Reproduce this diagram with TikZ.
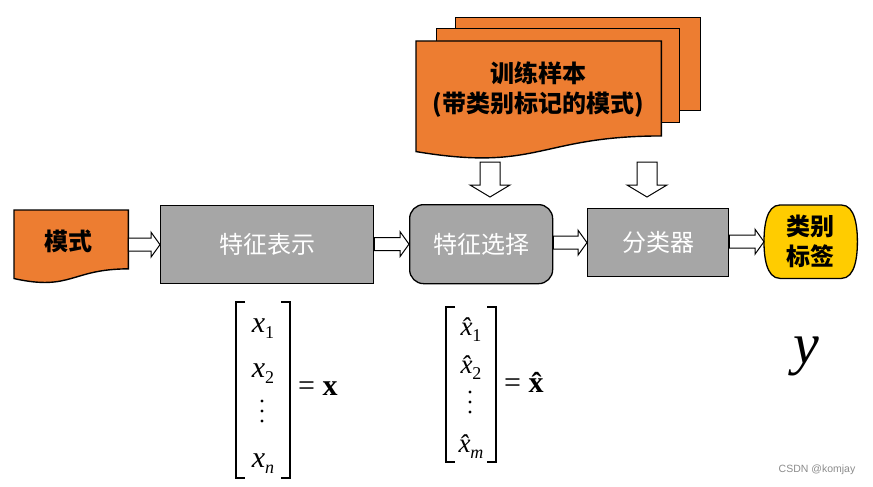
\documentclass[tikz,border=0pt]{standalone}
\usepackage{fontspec}
\setmainfont{Liberation Serif}
\newfontfamily\cjk{Noto Sans CJK SC}
\newfontfamily\wmfont{Liberation Sans}
\usetikzlibrary{calc}
\definecolor{docorange}{HTML}{ED7D31}
\definecolor{boxgray}{HTML}{A6A6A6}
\definecolor{lblyellow}{HTML}{FFCC00}
\newcommand\docpath[1]{(#1.north west) -- (#1.north east) -- ($(#1.north east)!0.802!(#1.south east)$) .. controls ($(#1.north)!0.802!(#1.south)$) and ($(#1.north)!1.1075!(#1.south)$) .. ($(#1.north west)!0.934!(#1.south west)$) -- cycle}
\newcommand\harrow[2]{\draw[blockarr] let \p1=(#1.east), \p2=(#2.west) in (\x1,\y2+6.5) -- (\x2-9,\y2+6.5) -- (\x2-9,\y2+12.5) -- (\x2,\y2) -- (\x2-9,\y2-12.5) -- (\x2-9,\y2-6.5) -- (\x1,\y2-6.5) -- cycle;}
\newcommand\varrow[2]{\draw[blockarr] let \p1=(#1), \p2=(#2) in (\x1-10,\y1) -- (\x1+10,\y1) -- (\x1+10,\y2+12) -- (\x1+20,\y2+12) -- (\x1,\y2) -- (\x1-20,\y2+12) -- (\x1-10,\y2+12) -- cycle;}
\newcommand\sub[1]{\raisebox{-6pt}{\fontsize{18}{18}\selectfont\upshape #1}}
\begin{document}
\begin{tikzpicture}[x=1pt,y=-1pt,
  shapebox/.style={rectangle, inner sep=0, anchor=north west},
  page/.style={shapebox, draw=black, fill=docorange, line width=1.4},
  docline/.style={draw=black, fill=docorange, line width=1.4},
  grbox/.style={shapebox, draw=black, fill=boxgray, line width=1.3, text=white, font=\cjk\fontsize{24}{28}\selectfont},
  blk/.style={text=black, font=\cjk\bfseries\fontsize{24}{30}\selectfont, align=center, inner sep=0},
  blockarr/.style={draw=black, fill=white, line width=1},
  brk/.style={draw=black, line width=1.5},
  mth/.style={inner sep=0, anchor=base, font=\fontsize{30}{32}\selectfont},
  mthh/.style={inner sep=0, anchor=base, font=\fontsize{27}{30}\selectfont},
  dot/.style={circle, fill=black, inner sep=0, minimum size=3.2}]
\useasboundingbox (0,0) rectangle (873,487);
\fill[white] (0,0) rectangle (873,487);
% training sample stack
\node[page, minimum width=245, minimum height=93] (p3) at (455,17) {};
\node[page, minimum width=243, minimum height=94] (p2) at (436,28) {};
\node[shapebox, minimum width=245, minimum height=118] (p1) at (416,41) {};
\draw[docline] \docpath{p1};
\node[blk] (train) at (538,90) {训练样本\\(带类别标记的模式)};
% vertical arrows
\coordinate (a1top) at (490,162);
\coordinate (a1tip) at (490,197);
\coordinate (a2top) at (647,162);
\coordinate (a2tip) at (647,197);
\varrow{a1top}{a1tip}
\varrow{a2top}{a2tip}
% pattern
\node[shapebox, minimum width=114, minimum height=73] (ms) at (14,210) {};
\draw[docline] \docpath{ms};
\node[blk] (mstxt) at (68,241) {模式};
% boxes
\node[grbox, minimum width=213, minimum height=78] (tzbs) at (160,205) {特征表示};
\node[grbox, rounded corners=14, minimum width=143, minimum height=79] (tzxz) at (409,204) {特征选择};
\node[grbox, minimum width=141, minimum height=68] (fl) at (587,208) {分类器};
% label shape
\node[shapebox, minimum width=93, minimum height=73] (lbl) at (764,205) {};
\draw[fill=lblyellow, draw=black, line width=1.3] ([xshift=16]lbl.north west) -- ([xshift=-16]lbl.north east) .. controls ([xshift=-2]lbl.north east) and ([yshift=14]lbl.east) .. (lbl.east) .. controls ([yshift=-14]lbl.east) and ([xshift=-2]lbl.south east) .. ([xshift=-16]lbl.south east) -- ([xshift=16]lbl.south west) .. controls ([xshift=2]lbl.south west) and ([yshift=-14]lbl.west) .. (lbl.west) .. controls ([yshift=14]lbl.west) and ([xshift=2]lbl.north west) .. ([xshift=16]lbl.north west) -- cycle;
\node[blk] (lbltxt) at (lbl.center) {类别\\标签};
% arrows
\harrow{ms}{tzbs}
\harrow{tzbs}{tzxz}
\harrow{tzxz}{fl}
\harrow{fl}{lbl}
% feature vector x
\draw[brk] (245,302) -- (236,302) -- (236,478) -- (245,478);
\draw[brk] (281,302) -- (290,302) -- (290,478) -- (281,478);
\node[mth] (x1) at (263,332) {\itshape x\sub{1}};
\node[mth] (x2) at (263,377) {\itshape x\sub{2}};
\node[dot] (xd1) at (262,401) {};
\node[dot] (xd2) at (262,411) {};
\node[dot] (xd3) at (262,421) {};
\node[mth] (xn) at (263,467) {\itshape x\sub{\itshape n}};
\node[mth, anchor=base west] (xeq) at (298,395) {= \textbf{x}};
% selected feature vector
\draw[brk] (455,307) -- (446,307) -- (446,462) -- (455,462);
\draw[brk] (487,307) -- (496,307) -- (496,462) -- (487,462);
\node[mthh] (h1) at (471,335) {\itshape \^{x}\sub{1}};
\node[mthh] (h2) at (471,373) {\itshape \^{x}\sub{2}};
\node[dot] (hd1) at (470,392) {};
\node[dot] (hd2) at (470,402) {};
\node[dot] (hd3) at (470,412) {};
\node[mthh] (hm) at (471,452) {\itshape \^{x}\sub{\itshape m}};
\node[mth, anchor=base west] (heq) at (504,392) {= \textbf{\^{x}}};
% output
\node[inner sep=0, font=\fontsize{58}{58}\selectfont\itshape] (yv) at (806,356) {y};
\node[inner sep=0, text=black!45, font=\wmfont\fontsize{10.5}{12}\selectfont] (wm) at (817,470) {CSDN @komjay};
\end{tikzpicture}
\end{document}
